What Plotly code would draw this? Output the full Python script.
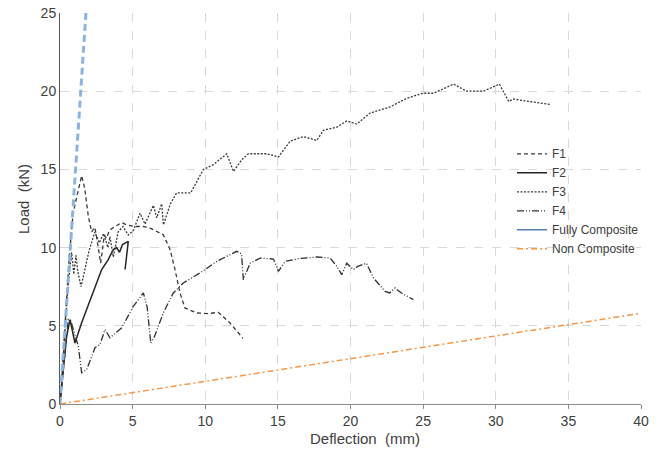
import plotly.graph_objects as go

# ---- data (deflection mm, load kN) ----
f1_x = [0, 0.2, 0.4, 0.65, 0.9, 1.2, 1.49, 1.7, 1.95, 2.18, 2.4, 2.55, 2.8, 3.05, 3.2, 3.4, 3.7, 4.25, 4.6, 5.17, 5.74, 6.2, 7.11, 7.58, 7.92, 8.26, 8.6, 8.95, 9.41, 10.2, 10.9, 11.7, 12.6]
f1_y = [0, 2.5, 6.0, 9.5, 12.2, 13.5, 14.6, 13.8, 12.0, 11.0, 11.3, 10.5, 9.0, 10.8, 10.6, 11.1, 11.3, 11.6, 11.45, 11.35, 11.35, 11.25, 10.82, 9.87, 8.59, 7.1, 6.14, 6.0, 5.82, 5.78, 5.86, 5.18, 4.2]

f2_x = [0, 0.2, 0.45, 0.69, 0.85, 1.03, 1.49, 2.18, 2.87, 3.3, 3.67, 3.9, 4.1, 4.3, 4.48, 4.7, 4.48]
f2_y = [0, 2.0, 4.3, 5.4, 4.6, 3.9, 5.2, 6.9, 8.6, 9.2, 9.87, 10.0, 9.7, 10.2, 10.3, 10.4, 8.6]

f3_x = [0, 0.3, 0.55, 0.8, 0.95, 1.1, 1.22, 1.45, 1.8, 2.0, 2.4, 2.7, 3.0, 3.3, 3.44, 3.67, 4.0, 4.34, 4.7, 5.05, 5.51, 5.85, 6.43, 6.66, 7.0, 7.12, 7.6, 8.03, 9.0, 9.87, 10.56, 11.48, 11.94, 12.5, 12.97, 14.23, 15.04, 15.84, 16.76, 17.68, 18.13, 19.06, 19.74, 20.43, 21.35, 22.04, 22.73, 23.88, 25.0, 25.7, 27.1, 28.0, 29.15, 30.25, 30.9, 31.2, 33.75]
f3_y = [0, 4.0, 7.5, 9.7, 8.3, 9.5, 8.5, 7.5, 9.0, 9.8, 11.0, 10.3, 10.9, 10.0, 10.7, 9.4, 11.0, 11.35, 10.8, 11.1, 12.2, 11.5, 12.7, 11.9, 12.8, 11.46, 12.8, 13.5, 13.5, 15.0, 15.3, 16.0, 14.87, 15.6, 16.0, 16.0, 15.8, 16.8, 17.1, 16.85, 17.5, 17.7, 18.1, 17.9, 18.6, 18.8, 19.0, 19.55, 19.87, 19.87, 20.45, 20.0, 20.0, 20.45, 19.34, 19.5, 19.15]

f4_x = [0, 0.3, 0.57, 0.75, 1.26, 1.49, 1.84, 2.41, 2.75, 3.1, 3.44, 4.25, 5.05, 5.74, 6.0, 6.25, 6.5, 7.11, 7.8, 8.49, 9.64, 10.8, 12.17, 12.5, 12.62, 13.09, 13.77, 14.7, 15.04, 15.5, 16.5, 17.68, 18.6, 19.06, 19.4, 19.74, 20.2, 20.5, 21.1, 21.58, 22.38, 22.7, 23.07, 23.5, 24.33]
f4_y = [0, 2.8, 5.4, 5.3, 3.7, 2.0, 2.2, 3.6, 3.8, 4.76, 4.23, 4.87, 6.25, 7.1, 6.2, 3.9, 4.3, 5.82, 7.1, 7.74, 8.38, 9.12, 9.76, 9.6, 7.95, 9.0, 9.33, 9.27, 8.48, 9.12, 9.3, 9.4, 9.33, 8.8, 8.27, 9.0, 8.59, 8.8, 9.0, 8.06, 7.2, 7.1, 7.42, 7.1, 6.67]

full_x = [0, 2.0]
full_y = [0, 28.0]

non_x = [0, 40]
non_y = [0, 5.8]

x_ticks = [0, 5, 10, 15, 20, 25, 30, 35, 40]
y_ticks = [0, 5, 10, 15, 20, 25]

FONT = "Liberation Sans, Arial"
TXT = "#404040"

fig = go.Figure()
fig.add_trace(go.Scatter(x=f1_x, y=f1_y, mode="lines", name="F1",
                         line=dict(color="#3a3a3a", width=1.3, dash="4px,3px")))
fig.add_trace(go.Scatter(x=f2_x, y=f2_y, mode="lines", name="F2",
                         line=dict(color="#262626", width=1.5)))
fig.add_trace(go.Scatter(x=f3_x, y=f3_y, mode="lines", name="F3",
                         line=dict(color="#3a3a3a", width=1.3, dash="2px,1.5px")))
fig.add_trace(go.Scatter(x=f4_x, y=f4_y, mode="lines", name="F4",
                         line=dict(color="#303030", width=1.3, dash="7px,2px,1px,2px,1px,2px")))
# Fully composite: plotted as light dashed line, legend shows solid blue
fig.add_trace(go.Scatter(x=full_x, y=full_y, mode="lines", name="Fully Composite",
                         showlegend=False, legendgroup="full",
                         line=dict(color="#8db3e2", width=3, dash="7px,4px")))
fig.add_trace(go.Scatter(x=[None], y=[None], mode="lines", name="Fully Composite",
                         legendgroup="full",
                         line=dict(color="#4f81bd", width=1.5)))
fig.add_trace(go.Scatter(x=non_x, y=non_y, mode="lines", name="Non Composite",
                         line=dict(color="#f79646", width=1.5, dash="6px,3px,2px,3px")))

axis_common = dict(
    showgrid=True, gridcolor="#d9d9d9", griddash="dash", gridwidth=1,
    zeroline=False, showline=True, linewidth=1, automargin=False,
    tickfont=dict(family=FONT, size=14, color=TXT),
)
fig.update_xaxes(range=[0, 40], tickvals=x_ticks, linecolor="#8c8c8c",
                 ticks="outside", ticklen=4, tickcolor="#8c8c8c",
                 **axis_common)
fig.update_yaxes(range=[0, 25], tickvals=y_ticks, linecolor="#595959",
                 ticks="", **axis_common)

fig.update_layout(
    width=661, height=454,
    margin=dict(l=60, r=20, t=13, b=50),
    plot_bgcolor="white", paper_bgcolor="white",
    font=dict(family=FONT, size=12, color=TXT),
    legend=dict(x=0.778, y=0.677, xanchor="left", yanchor="top",
                bgcolor="rgba(0,0,0,0)", font=dict(family=FONT, size=12, color=TXT),
                tracegroupgap=0),
    showlegend=True,
    annotations=[
        dict(text="Deflection  (mm)", xref="paper", yref="paper",
             x=(365 - 60) / 581, y=-(438 - 404) / 391, xanchor="center", yanchor="middle",
             showarrow=False, font=dict(family=FONT, size=15, color=TXT)),
        dict(text="Load  (kN)", xref="paper", yref="paper", textangle=-90,
             x=-(60 - 23) / 581, y=(404 - 199) / 391, xanchor="center", yanchor="middle",
             showarrow=False, font=dict(family=FONT, size=15, color=TXT)),
    ],
)

fig.write_html("out.html")
